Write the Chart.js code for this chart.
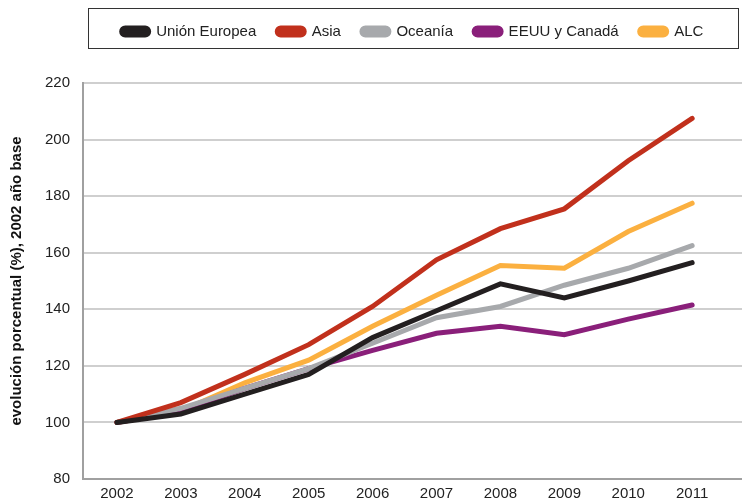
<!DOCTYPE html>
<html>
<head>
<meta charset="utf-8">
<script src="https://cdn.jsdelivr.net/npm/chart.js@4/dist/chart.umd.min.js"></script>
<style>
  body { margin: 0; background: #fff; }
  #wrap { width: 742px; height: 502px; }
</style>
</head>
<body>
<div id="wrap"><canvas id="canvas-evo"></canvas></div>
<script>
const years = ['2002', '2003', '2004', '2005', '2006', '2007', '2008', '2009', '2010', '2011'];
const ue = [100, 103, 110, 117, 130, 139.5, 149, 144, 150, 156.5];
const asia = [100, 107, 117, 127.5, 141, 157.5, 168.5, 175.5, 192.5, 207.5];
const oceania = [100, 105, 112, 119, 128, 137, 141, 148.5, 154.5, 162.5];
const eeuu = [100, 104, 112, 119, 125.5, 131.5, 134, 131, 136.5, 141.5];
const alc = [100, 104, 114, 122, 134, 145, 155.5, 154.5, 167.5, 177.5];

const legendBox = {
  id: 'legendBox',
  beforeInit(chart) {
    const fit = chart.legend.fit;
    chart.legend.fit = function () {
      fit.bind(chart.legend)();
      this.height += 37;
    };
  },
  afterLayout(chart) {
    // move the legend row down a bit, the plot stays where it is
    chart.legend.top += 3;
    chart.legend.bottom += 3;
  },
  afterDraw(chart) {
    const ctx = chart.ctx;
    ctx.save();
    ctx.strokeStyle = '#333';
    ctx.lineWidth = 1;
    ctx.strokeRect(88.5, 8.5, 650, 40);
    ctx.restore();
  }
};

function ds(label, data, color) {
  return {
    label: label,
    data: years.map((y, i) => ({ x: Number(y), y: data[i] })),
    borderColor: color,
    backgroundColor: color,
    borderWidth: 5,
    borderCapStyle: 'round',
    borderJoinStyle: 'miter',
    pointRadius: 0,
    tension: 0,
  };
}

const ctx = document.getElementById('canvas-evo').getContext('2d');
new Chart(ctx, {
  type: 'line',
  data: {
    datasets: [
      ds('Unión Europea', ue, '#231f20'),
      ds('Asia', asia, '#c1301c'),
      ds('Oceanía', oceania, '#a7a9ac'),
      ds('EEUU y Canadá', eeuu, '#8a1f7a'),
      ds('ALC', alc, '#fbb040'),
    ],
  },
  plugins: [legendBox],
  options: {
    responsive: true,
    maintainAspectRatio: false,
    animation: false,
    layout: { padding: { top: 0, right: 0, left: 8, bottom: -7 } },
    plugins: {
      tooltip: { enabled: false },
      legend: {
        position: 'top',
        fullSize: false,
        labels: {
          font: { family: 'Liberation Sans', size: 15 },
          color: '#222',
          boxWidth: 27,
          boxHeight: 7,
          useBorderRadius: true,
          borderRadius: 3.5,
          padding: 21,
        },
      },
    },
    scales: {
      x: {
        type: 'linear',
        min: 2001.47,
        max: 2011.78,
        grid: { display: false, drawTicks: false },
        border: { color: '#a0a0a0', width: 2 },
        ticks: {
          stepSize: 1,
          includeBounds: false,
          autoSkip: false,
          maxRotation: 0,
          callback: (v) => (years.includes(String(v)) ? String(v) : ''),
          font: { family: 'Liberation Sans', size: 15 },
          color: '#222',
          padding: 6,
        },
      },
      y: {
        min: 80,
        max: 220,
        ticks: { stepSize: 20, font: { family: 'Liberation Sans', size: 15 }, color: '#222', padding: 13 },
        grid: { color: '#cfcfcf', lineWidth: 2, drawTicks: false },
        border: { color: '#a0a0a0', width: 2 },
        title: {
          display: true,
          text: 'evolución porcentual (%), 2002 año base',
          font: { family: 'Liberation Sans', size: 15, weight: 'bold' },
          color: '#111',
          padding: { top: 0, bottom: 6 },
        },
      },
    },
  },
});
</script>
</body>
</html>
